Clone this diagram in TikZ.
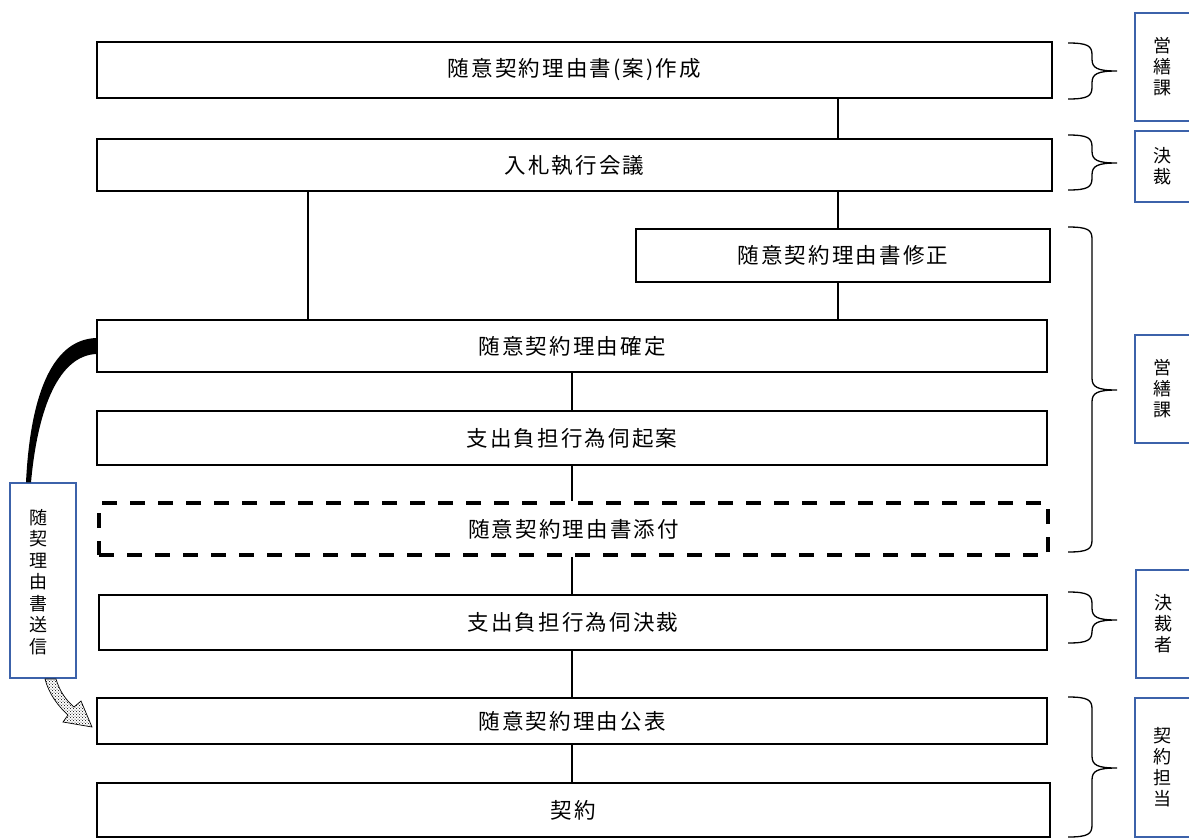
\documentclass[tikz,border=0pt]{standalone}
\usepackage{fontspec}
\newfontfamily\jp[LetterSpace=10]{Noto Sans CJK JP}
\newfontfamily\jpv{Noto Sans CJK JP}
\usetikzlibrary{patterns}
\definecolor{lblblue}{RGB}{60,98,170}
\newcommand\mybrc[3]{%
  \draw[brc] (1068,#1) .. controls (1088,#1) and (1092,{#1+3}) .. (1092,{#1+12})
    -- (1092,{#3-12}) .. controls (1092,{#3-3}) and (1097,#3) .. (1117,#3)
    .. controls (1097,#3) and (1092,{#3+3}) .. (1092,{#3+12})
    -- (1092,{#2-12}) .. controls (1092,{#2-3}) and (1088,#2) .. (1068,#2);}
\begin{document}
\begin{tikzpicture}[x=1pt,y=-1pt,
  mainbox/.style={draw=black, line width=2.4pt, inner sep=0pt, font=\jp\fontsize{21.5}{24}\selectfont},
  dashbox/.style={mainbox, line width=4pt, dash pattern=on 15pt off 13pt},
  lbl/.style={draw=lblblue, line width=1.2pt, inner sep=0pt},
  vtext/.style={align=center, inner sep=0pt, font=\jpv\fontsize{18}{21}\selectfont},
  conn/.style={draw=black, line width=1.3pt},
  brc/.style={draw=black, line width=1.3pt}]
\clip (0,0) rectangle (1189,839);
\fill[white] (0,0) rectangle (1189,839);

% main boxes
\node[mainbox, minimum width=955pt, minimum height=56pt] (b1) at (574.5,70) {随意契約理由書(案)作成};
\node[mainbox, minimum width=955pt, minimum height=52pt] (b2) at (574.5,165) {入札執行会議};
\node[mainbox, minimum width=414pt, minimum height=53pt] (b3) at (843,255.5) {随意契約理由書修正};
\node[mainbox, minimum width=950pt, minimum height=52pt] (b4) at (572,346) {随意契約理由確定};
\node[mainbox, minimum width=950pt, minimum height=54pt] (b5) at (572,438) {支出負担行為伺起案};
\node[dashbox, minimum width=949pt, minimum height=52pt] (b6) at (573.5,529) {随意契約理由書添付};
\node[mainbox, minimum width=948pt, minimum height=55pt] (b7) at (573,622.5) {支出負担行為伺決裁};
\node[mainbox, minimum width=950pt, minimum height=46pt] (b8) at (572,721) {随意契約理由公表};
\node[mainbox, minimum width=953pt, minimum height=54pt] (b9) at (573.5,810) {契約};

% vertical reference coordinates
\coordinate (xr) at (838,0);
\coordinate (xl) at (308,0);
\coordinate (xm) at (572,0);

% connectors
\draw[conn] (b1.south -| xr) -- (b2.north -| xr);
\draw[conn] (b2.south -| xl) -- (b4.north -| xl);
\draw[conn] (b2.south -| xr) -- (b3.north -| xr);
\draw[conn] (b3.south -| xr) -- (b4.north -| xr);
\draw[conn] (b4.south -| xm) -- (b5.north -| xm);
\draw[conn] (b5.south -| xm) -- (b6.north -| xm);
\draw[conn] (b6.south -| xm) -- (b7.north -| xm);
\draw[conn] (b7.south -| xm) -- (b8.north -| xm);
\draw[conn] (b8.south -| xm) -- (b9.north -| xm);

% braces
\mybrc{43}{99}{71}
\mybrc{135}{190}{163}
\mybrc{227}{552}{390}
\mybrc{592}{643}{620}
\mybrc{697}{837}{768}

% right labels
\node[lbl, minimum width=58pt, minimum height=108pt] (l1) at (1164,67) {};
\node[vtext] (l1t) at (1162,67) {営\\繕\\課};
\node[lbl, minimum width=58pt, minimum height=71pt] (l2) at (1164,166.5) {};
\node[vtext] (l2t) at (1162,166.5) {決\\裁};
\node[lbl, minimum width=58pt, minimum height=108pt] (l3) at (1164,389) {};
\node[vtext] (l3t) at (1162,389) {営\\繕\\課};
\node[lbl, minimum width=58pt, minimum height=108pt] (l4) at (1165,624) {};
\node[vtext] (l4t) at (1163,624) {決\\裁\\者};
\node[lbl, minimum width=58pt, minimum height=139pt] (l5) at (1164,767.5) {};
\node[vtext] (l5t) at (1162,767.5) {契\\約\\担\\当};

% left label
\node[lbl, minimum width=66pt, minimum height=195pt] (send) at (43,580.5) {};
\node[vtext, font=\jpv\fontsize{18}{21.5}\selectfont] (sendt) at (38,582) {随\\契\\理\\由\\書\\送\\信};

% black tapered curved arrow (send top -> b4 left)
\fill[black] (send.north -| 26,0) .. controls (30,400) and (50,340) .. (b4.west |- 0,338)
  -- (b4.west |- 0,354) .. controls (60,356) and (38,405) .. (send.north -| 31,0) -- cycle;

% dotted block arrow (send bottom -> b8 left)
\draw[line width=0.7pt, pattern=crosshatch dots, pattern color=black]
  (45,679) -- (56,679) .. controls (60,692) and (66,700) .. (74,707)
  -- (81,701) -- (92,727) -- (63,722) -- (68,715)
  .. controls (58,706) and (49,694) .. (45,679) -- cycle;
\end{tikzpicture}
\end{document}
